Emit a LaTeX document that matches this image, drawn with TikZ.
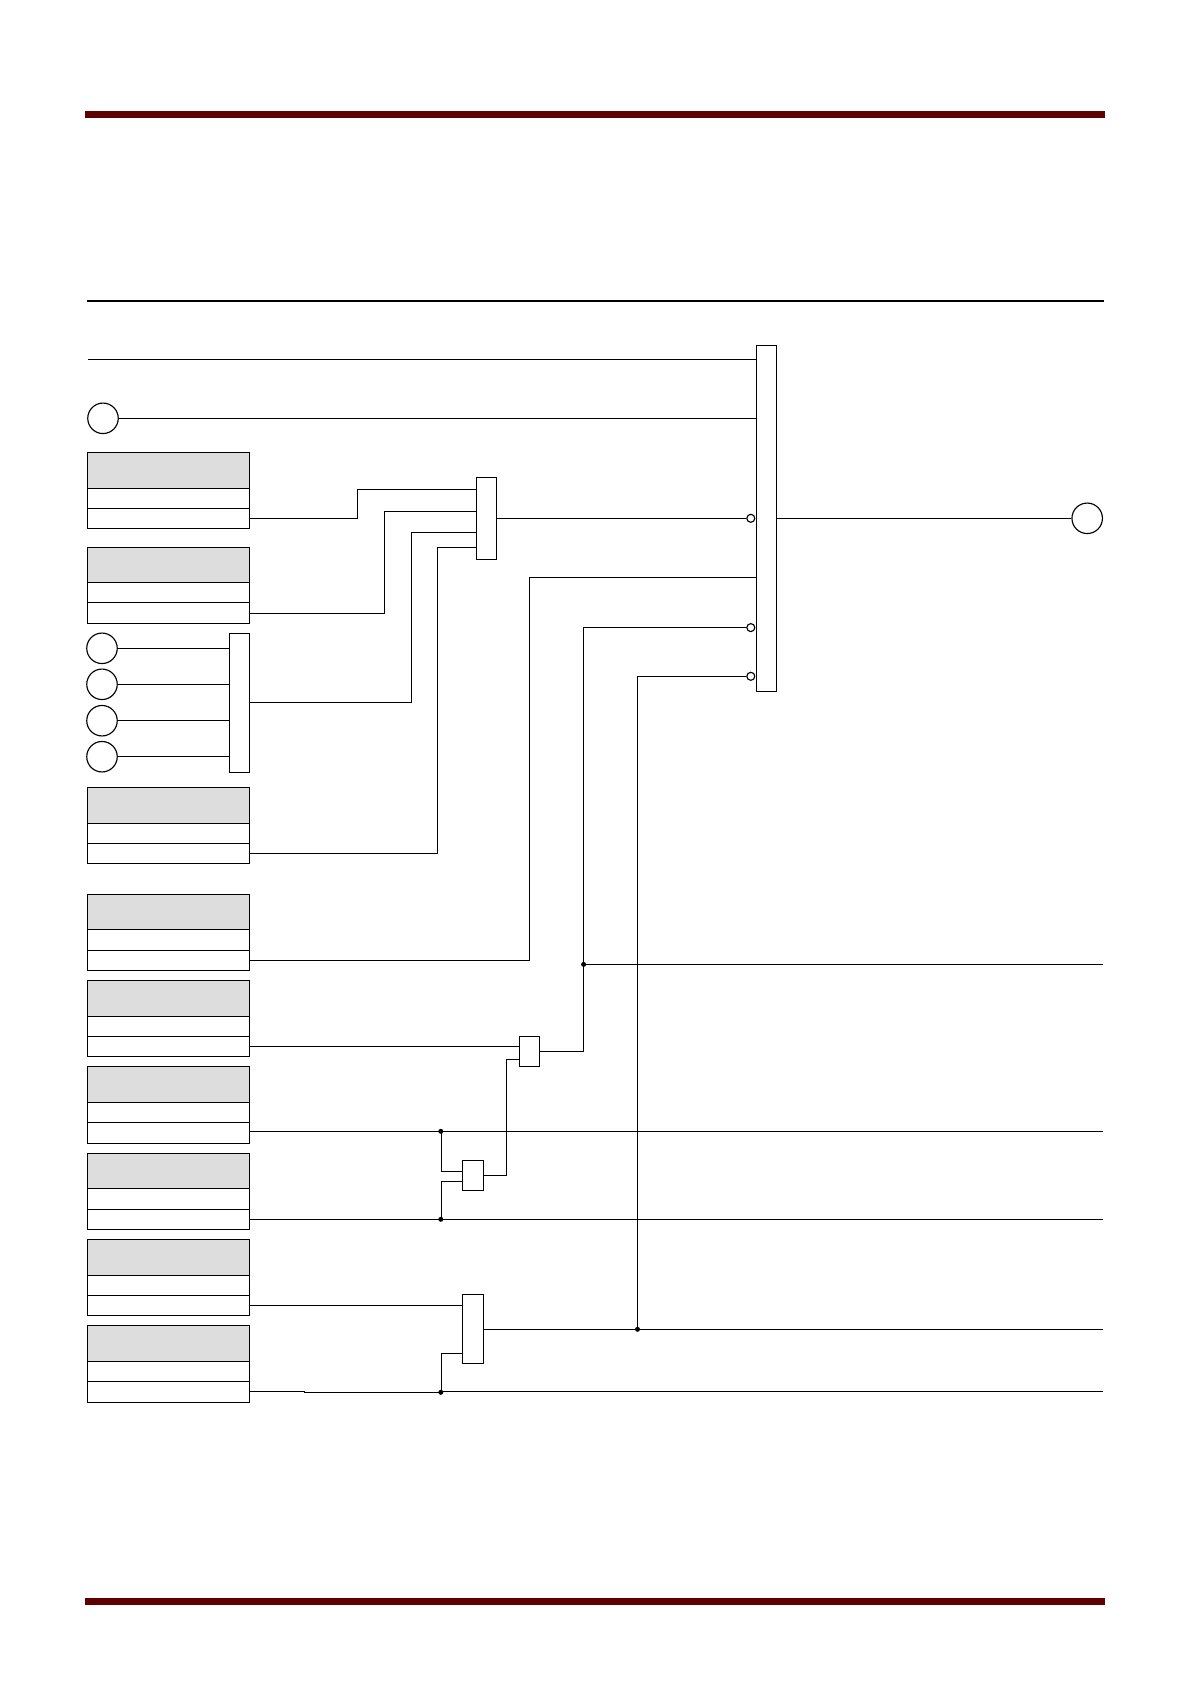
\documentclass[tikz,border=0pt]{standalone}
\usepackage{xcolor}
\definecolor{barred}{HTML}{5E0000}
\definecolor{headgray}{HTML}{DDDDDD}
\begin{document}
\begin{tikzpicture}[
  x=0.02cm, y=-0.02cm,
  line width=0.65pt,
  headbox/.style={draw, fill=headgray, inner sep=0, minimum width=3.248cm},
  rowbox/.style={draw, fill=white, inner sep=0, minimum width=3.248cm},
  gatebox/.style={draw, fill=white, inner sep=0},
  port/.style={circle, draw, fill=white, inner sep=0, minimum size=0.61cm},
  bubble/.style={circle, draw, fill=white, inner sep=0, minimum size=0.16cm},
  dot/.style={circle, fill=black, inner sep=0, outer sep=0, minimum size=0.1cm}
]
  \useasboundingbox (0,0) rectangle (1190,1684);
  % page rules
  \fill[barred] (85,111) rectangle (1105,118);
  \fill[barred] (85,1598.2) rectangle (1105,1604.5);
  \draw[line width=1.1pt] (87,300.7) -- (1104,300.7);
  % input boxes: name/top/head bottom/row/bottom
  \foreach \n/\a/\b/\c/\d in {
    boxa/452.3/488.3/508.3/528.3, boxb/547.3/582.3/602.3/623.3,
    boxc/787.7/823.3/843.3/863.3, boxd/894.7/929.3/950.3/970.3,
    boxe/980.3/1016.3/1036.3/1056.3, boxf/1066.3/1102.3/1122.3/1143.3,
    boxg/1153.3/1188.3/1209.3/1229.3, boxh/1239.3/1275.3/1295.3/1315.3,
    boxi/1325.3/1361.3/1381.3/1402.3} {
    \node[headbox, minimum height={(\b-\a)*0.02cm}] (\n1) at (168.5,{(\a+\b)/2}) {};
    \node[rowbox, minimum height={(\c-\b)*0.02cm}] (\n2) at (168.5,{(\b+\c)/2}) {};
    \node[rowbox, minimum height={(\d-\c)*0.02cm}] (\n3) at (168.5,{(\c+\d)/2}) {};
  }
  % gates
  \node[gatebox, minimum width=0.392cm, minimum height=6.91cm] (main) at (766.4,518.5) {};
  \node[gatebox, minimum width=0.408cm, minimum height=1.64cm] (gatea) at (486.5,518.3) {};
  \node[gatebox, minimum width=0.408cm, minimum height=2.78cm] (gateb) at (239.5,702.8) {};
  \node[gatebox, minimum width=0.406cm, minimum height=0.608cm] (gatec) at (529.5,1051.5) {};
  \node[gatebox, minimum width=0.428cm, minimum height=0.608cm] (gated) at (473,1175.5) {};
  \node[gatebox, minimum width=0.428cm, minimum height=1.38cm] (gatee) at (473,1328.8) {};
  % ports
  \node[port] (pa) at (103,418.3) {};
  \node[port] (pb) at (102,648.3) {};
  \node[port] (pc) at (102,684.3) {};
  \node[port] (pd) at (102,720.7) {};
  \node[port] (pe) at (102,756.7) {};
  \node[port] (out) at (1087.2,518.3) {};
  % inverting inputs on the main gate
  \node[bubble] (inva) at (750.8,518.3) {};
  \node[bubble] (invb) at (750.8,627.6) {};
  \node[bubble] (invc) at (750.8,676.3) {};
  % free ends
  \coordinate (top) at (88,359.3);
  \coordinate (ende) at (1103,964.4);
  \coordinate (endf) at (1103,1131.3);
  \coordinate (endg) at (1103,1219.3);
  \coordinate (endh) at (1103,1329.3);
  \coordinate (endi) at (1103,1391.3);
  % junctions
  \node[dot] (ja) at (583.6,964.4) {};
  \node[dot] (jb) at (440.8,1131.3) {};
  \node[dot] (jc) at (440.8,1219.3) {};
  \node[dot] (jd) at (637.5,1329.3) {};
  \node[dot] (je) at (440.8,1392.3) {};
  % wires into the main gate
  \draw (top) -- (main.west |- top);
  \draw (pa) -- (main.west |- pa);
  \draw (main.east |- out) -- (out);
  \draw (gatea) -- (inva);
  \draw (boxd3.east) -- (529.5,960.3) |- (main.west |- 0,577.3);
  \draw (gatec.east |- 0,1051.3) -| (ja.center) |- (invb);
  \draw (jd.center) |- (invc);
  % wires into gate a
  \draw (boxa3.east) -- (357.3,518.3) |- (gatea.west |- 0,489.3);
  \draw (boxb3.east |- 0,613.3) -- (384.3,613.3) |- (gatea.west |- 0,511.3);
  \draw (gateb.east |- 0,702.3) -- (411.3,702.3) |- (gatea.west |- 0,532.3);
  \draw (boxc3.east) -- (437.3,853.3) |- (gatea.west |- 0,547.3);
  % wires into gate b
  \draw (pb) -- (gateb.west |- pb);
  \draw (pc) -- (gateb.west |- pc);
  \draw (pd) -- (gateb.west |- pd);
  \draw (pe) -- (gateb.west |- pe);
  % lower gates
  \draw (boxe3.east) -- (gatec.west |- boxe3.east);
  \draw (gated) -- (506.3,1175.5) |- (gatec.west |- 0,1059.3);
  \draw (boxf3.east |- endf) -- (jb.center) -- (endf);
  \draw (boxg3.east |- endg) -- (jc.center) -- (endg);
  \draw (441.6,1131.3) |- (gated.west |- 0,1171.3);
  \draw (441.6,1219.3) |- (gated.west |- 0,1181.3);
  \draw (boxh3.east) -- (gatee.west |- boxh3.east);
  \draw (gatee.east |- endh) -- (jd.center) -- (endh);
  \draw (boxi3.east |- endi) -- (304.6,1391.3) -- (304.6,1392.3) -- (je.center);
  \draw (je.center |- endi) -- (endi);
  \draw (441.6,1392.3) |- (gatee.west |- 0,1353.3);
  \draw (ja.center) -- (ende);
\end{tikzpicture}
\end{document}
